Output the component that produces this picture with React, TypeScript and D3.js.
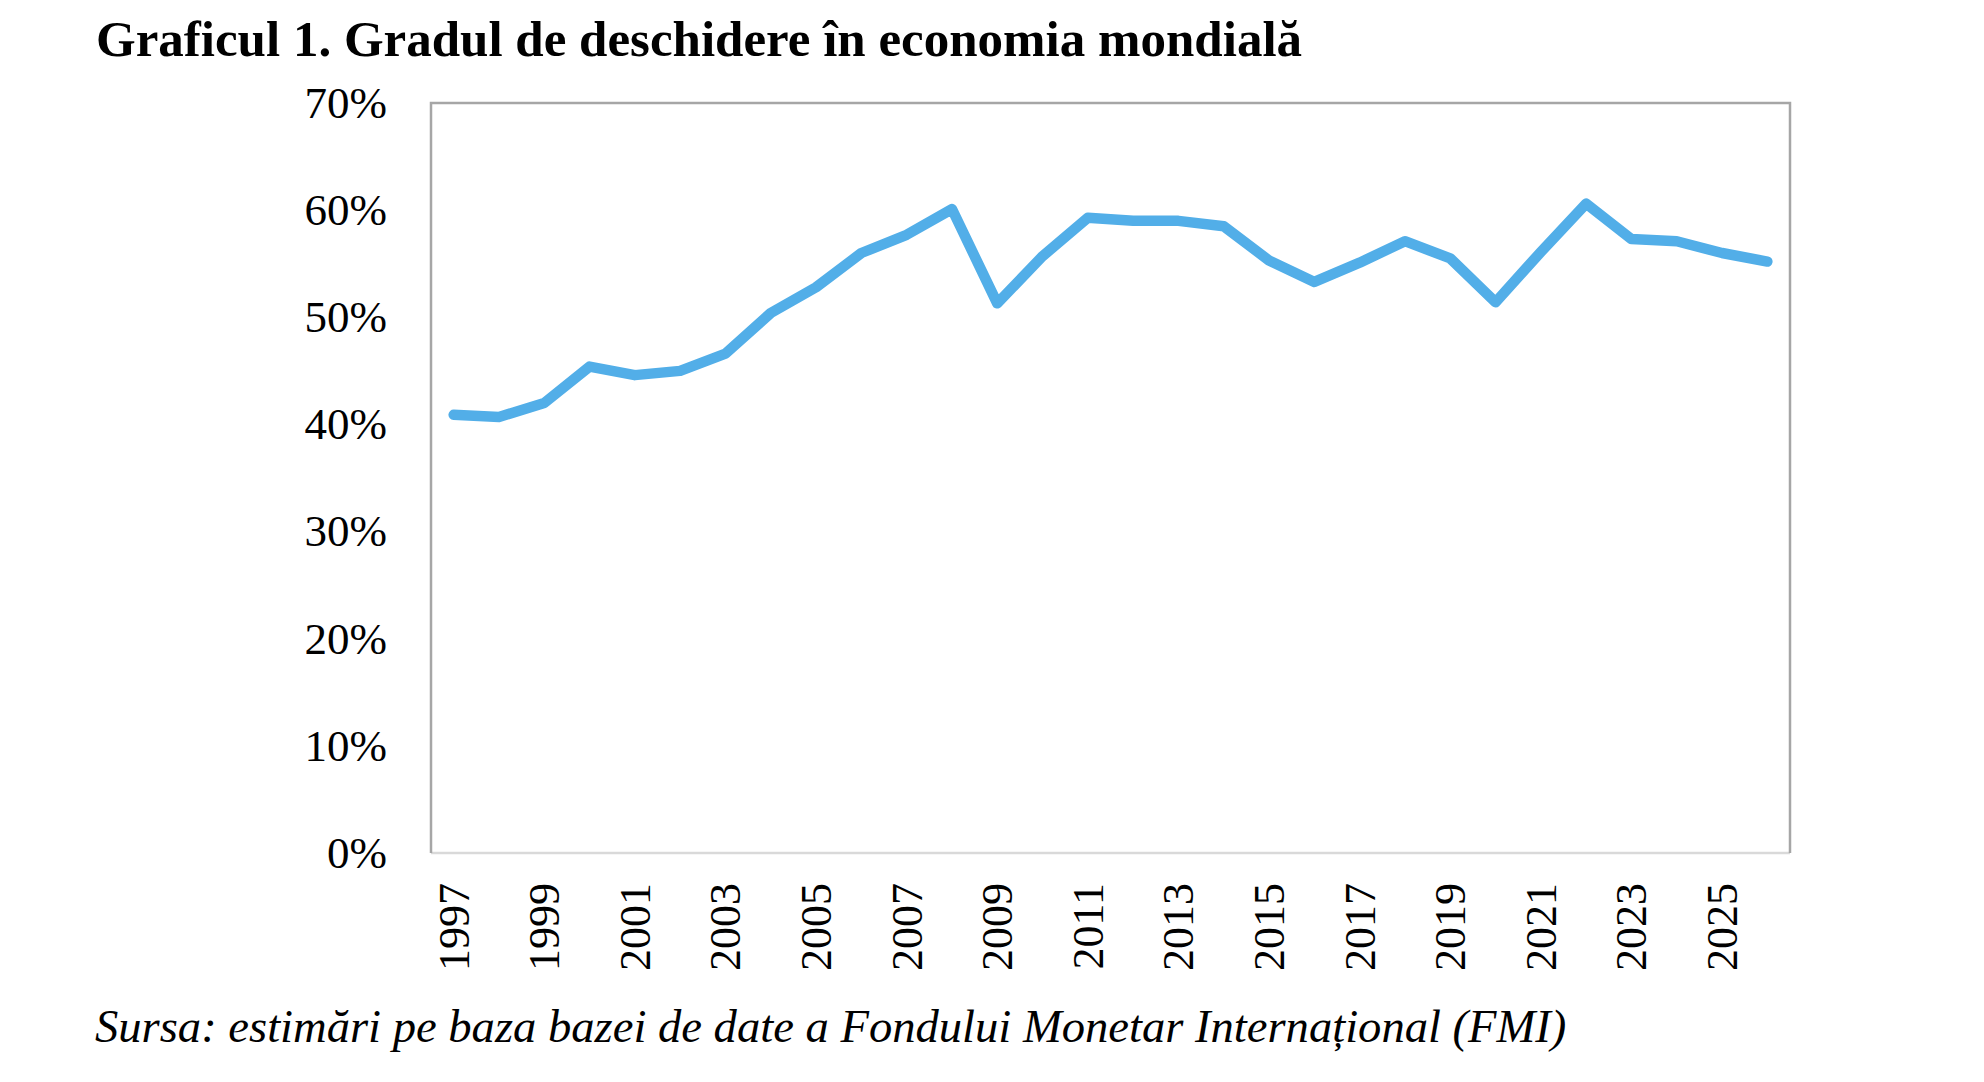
import React from "react";
import * as d3 from "d3";

const years: string[] = [
  "1997","1998","1999","2000","2001","2002","2003","2004","2005","2006",
  "2007","2008","2009","2010","2011","2012","2013","2014","2015","2016",
  "2017","2018","2019","2020","2021","2022","2023","2024","2025","2026",
];
const openness: number[] = [
  40.9, 40.7, 42.0, 45.4, 44.6, 45.0, 46.6, 50.4, 52.8, 56.0,
  57.7, 60.1, 51.3, 55.7, 59.3, 59.0, 59.0, 58.5, 55.3, 53.3,
  55.1, 57.1, 55.5, 51.4, 56.1, 60.6, 57.3, 57.1, 56.0, 55.2,
];
const yTicks: number[] = [0, 10, 20, 30, 40, 50, 60, 70];
const xTickLabels: string[] = years.filter((_, i) => i % 2 === 0);

const TITLE = "Graficul 1. Gradul de deschidere în economia mondială";
const SOURCE = "Sursa: estimări pe baza bazei de date a Fondului Monetar Internațional (FMI)";

export default function App() {
  const W = 1984, H = 1082;
  const left = 431, right = 1790, top = 103, bottom = 853;
  const x = d3.scaleBand<string>().domain(years).range([left, right]).padding(0);
  const y = d3.scaleLinear().domain([0, 70]).range([bottom, top]);
  const cx = (yr: string) => (x(yr) as number) + x.bandwidth() / 2;
  const line = d3
    .line<number>()
    .x((_, i) => cx(years[i]))
    .y((v) => y(v));
  const font = "'Liberation Serif', 'Times New Roman', serif";
  return (
    <svg
      width={W}
      height={H}
      viewBox={`0 0 ${W} ${H}`}
      style={{ position: "absolute", left: 0, top: 0, background: "#fff" }}
      fontFamily={font}
    >
      <rect x={0} y={0} width={W} height={H} fill="#fff" />
      <text x={96} y={56} fontSize={51} fontWeight="bold" fill="#000">
        {TITLE}
      </text>
      {/* plot frame */}
      <line x1={left} y1={bottom} x2={right} y2={bottom} stroke="#D9D9D9" strokeWidth={2.5} />
      <path
        d={`M${left},${bottom} L${left},${top} L${right},${top} L${right},${bottom}`}
        fill="none"
        stroke="#A6A6A6"
        strokeWidth={2.5}
      />
      {yTicks.map((t) => (
        <text key={t} x={387} y={y(t)} dy="0.33em" textAnchor="end" fontSize={45} fill="#000">
          {`${t}%`}
        </text>
      ))}
      {xTickLabels.map((yr) => (
        <text
          key={yr}
          transform={`translate(${cx(yr)},${883}) rotate(-90)`}
          dy="0.34em"
          textAnchor="end"
          fontSize={44}
          fill="#000"
        >
          {yr}
        </text>
      ))}
      <path
        d={line(openness) || ""}
        fill="none"
        stroke="#52AEE8"
        strokeWidth={10.5}
        strokeLinejoin="round"
        strokeLinecap="round"
      />
      <text x={95} y={1042} fontSize={46.6} fontStyle="italic" fill="#000">
        {SOURCE}
      </text>
    </svg>
  );
}
